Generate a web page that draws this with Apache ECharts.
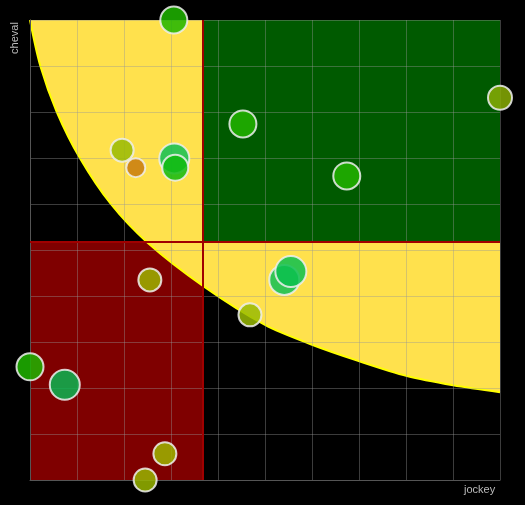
<!DOCTYPE html>
<html><head><meta charset="utf-8">
<script src="https://cdn.jsdelivr.net/npm/echarts@6/dist/echarts.min.js"></script>
<style>html,body{margin:0;padding:0;background:#000}#c{width:525px;height:505px}</style>
</head><body><div id="c"></div>
<script>
// ---- data ----
const jockey = [30.6, 100, 19.6, 22.5, 30.7, 30.9, 45.3, 67.4, 54.1, 55.5, 46.8, 25.5, 0, 7.4, 28.7, 24.5];
const cheval = [100, 83.1, 71.7, 67.9, 69.9, 67.9, 77.4, 66.1, 43.5, 45.3, 35.9, 43.5, 24.6, 20.7, 5.7, 0];
const thresholdJockey = 36.8;
const thresholdCheval = 51.7;
const frontierJockey = [0, 2.2, 5.7, 10.6, 17.2, 24.9, 36.8, 50, 60, 69.8, 80.2, 90, 100];
const frontierCheval = [100, 90, 80, 70, 60, 51.7, 42.2, 33.7, 29.4, 25.9, 22.6, 20.6, 19.1];
const axisMin = 0, axisMax = 100, axisStep = 10;

// ---- styles (kept apart from data) ----
const pointColors = ['#1fb500', '#88ad05', '#99ba05', '#c87a0e', '#0fbf56', '#10ba10', '#22b400', '#22b400',
  '#0fbf56', '#0cc04f', '#99ba05', '#9cb300', '#1fb500', '#09b551', '#9db500', '#98b500'];
const pointSizes = [27, 24, 23, 19, 30, 26, 27, 27, 30, 31, 23, 23, 27, 30, 23, 23];
const FONT = 'Liberation Sans, Arial, sans-serif';

const chart = echarts.init(document.getElementById('c'));
const axisCommon = {
  type: 'value', min: axisMin, max: axisMax, interval: axisStep, z: 4,
  axisLabel: { show: false }, axisTick: { show: false },
  axisLine: { lineStyle: { color: '#555', width: 1 } },
  splitLine: { lineStyle: { color: 'rgba(150,150,150,0.4)', width: 1 } }
};
chart.setOption({
  backgroundColor: '#000',
  animation: false,
  grid: { left: 30, right: 25, top: 20, bottom: 25 },
  xAxis: Object.assign({}, axisCommon, {
    name: 'jockey', nameLocation: 'end', nameGap: -36,
    nameTextStyle: { color: '#bbb', fontSize: 11, fontFamily: FONT, verticalAlign: 'top', padding: [4, 0, 0, 0] }
  }),
  yAxis: Object.assign({}, axisCommon),
  graphic: [{
    type: 'text', x: 15, y: 38, rotation: Math.PI / 2,
    style: { text: 'cheval', fill: '#bbb', fontSize: 11, fontFamily: FONT, align: 'center', verticalAlign: 'middle' }
  }],
  series: [
    { type: 'line', data: [], silent: true,
      markArea: { z: 1, silent: true, itemStyle: { color: '#7f0000' },
        data: [[{ xAxis: axisMin, yAxis: axisMin }, { xAxis: thresholdJockey, yAxis: thresholdCheval }]] } },
    { type: 'line', z: 2, silent: true, symbol: 'none', smooth: 0.3,
      data: frontierJockey.map((x, i) => [x, frontierCheval[i]]),
      lineStyle: { color: '#ffff00', width: 2 },
      areaStyle: { origin: 'end', color: '#ffe14d', opacity: 1 } },
    { type: 'line', data: [], silent: true,
      markArea: { z: 3, silent: true, itemStyle: { color: '#005a00' },
        data: [[{ xAxis: thresholdJockey, yAxis: thresholdCheval }, { xAxis: axisMax, yAxis: axisMax }]] } },
    { type: 'line', data: [], silent: true,
      markLine: { z: 5, silent: true, symbol: ['none', 'none'], label: { show: false },
        lineStyle: { color: '#a00000', width: 2, type: 'solid' },
        data: [{ xAxis: thresholdJockey }, { yAxis: thresholdCheval }] } },
    { type: 'scatter', z: 6, clip: false,
      data: jockey.map((x, i) => ({ value: [x, cheval[i]], symbolSize: pointSizes[i], itemStyle: { color: pointColors[i] } })),
      itemStyle: { opacity: 0.85, borderColor: '#eeeeee', borderWidth: 2 } }
  ]
});
</script></body></html>
